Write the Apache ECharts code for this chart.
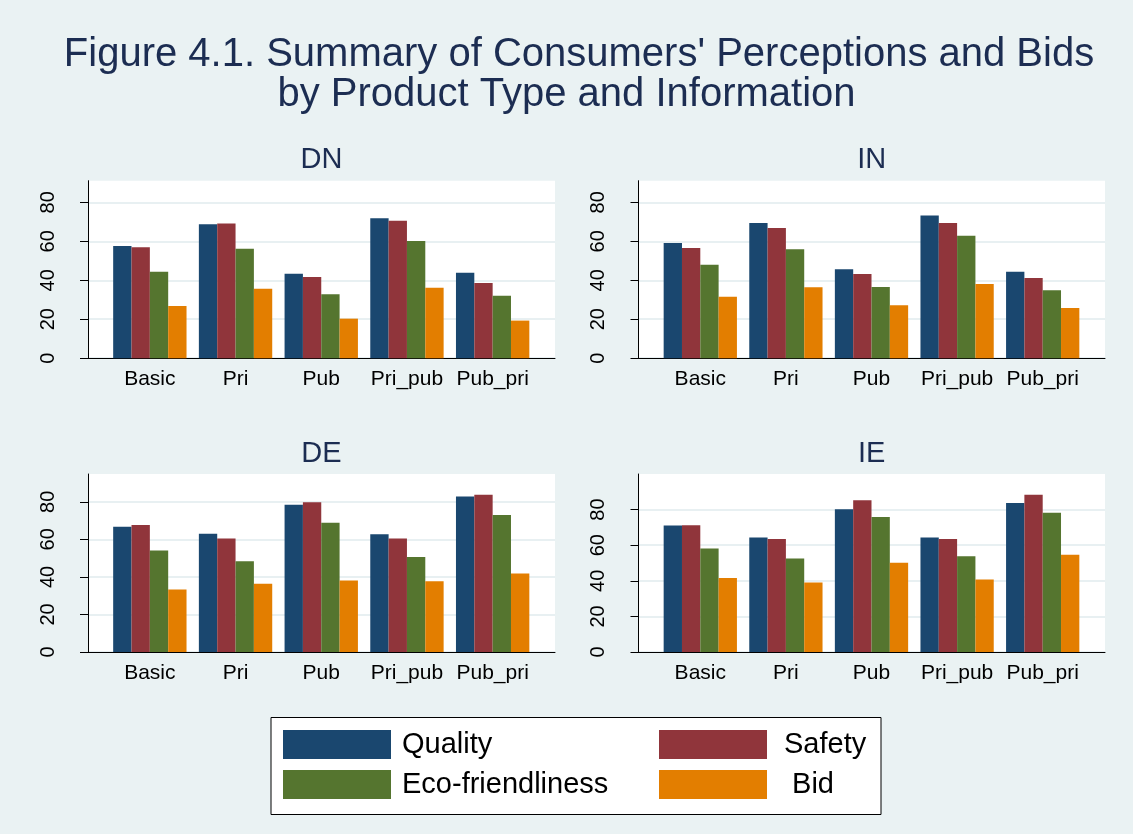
<!DOCTYPE html>
<html>
<head>
<meta charset="utf-8">
<title>Figure 4.1</title>
<script src="https://cdn.jsdelivr.net/npm/echarts@6/dist/echarts.min.js"></script>
<style>
  html, body { margin: 0; padding: 0; background: #eaf2f3; }
  #chart { width: 1133px; height: 834px; }
</style>
</head>
<body>
<div id="chart"></div>
<script>
const categories = ['Basic', 'Pri', 'Pub', 'Pri_pub', 'Pub_pri']
const seriesNames = ['Quality', 'Safety', 'Eco-friendliness', 'Bid']
const panelTitles = ['DN', 'IN', 'DE', 'IE']
const titleLines = ["Figure 4.1. Summary of Consumers' Perceptions and Bids", 'by Product Type and Information']
const yTicks = [0, 20, 40, 60, 80]
const panelMax = [91.1, 91.1, 94.8, 100]

const dnQuality = [57.6, 68.7, 43.4, 71.8, 43.8]
const dnSafety = [56.9, 69.1, 41.7, 70.6, 38.6]
const dnEco = [44.4, 56.2, 32.8, 60.2, 32.1]
const dnBid = [26.8, 35.7, 20.3, 36.1, 19.3]

const inQuality = [59.1, 69.4, 45.6, 73.2, 44.4]
const inSafety = [56.6, 66.8, 43.2, 69.4, 41.2]
const inEco = [47.9, 55.9, 36.6, 62.9, 34.9]
const inBid = [31.6, 36.4, 27.2, 38.1, 25.8]

const deQuality = [66.7, 63.0, 78.4, 62.7, 82.8]
const deSafety = [67.6, 60.4, 79.8, 60.4, 83.7]
const deEco = [54.0, 48.3, 68.8, 50.6, 72.9]
const deBid = [33.3, 36.3, 38.1, 37.7, 41.8]

const ieQuality = [71.0, 64.3, 80.2, 64.3, 83.7]
const ieSafety = [71.2, 63.5, 85.2, 63.5, 88.4]
const ieEco = [58.1, 52.5, 75.9, 53.8, 78.3]
const ieBid = [41.6, 39.0, 50.2, 40.8, 54.7]

const panelValues = [
  [dnQuality, dnSafety, dnEco, dnBid],
  [inQuality, inSafety, inEco, inBid],
  [deQuality, deSafety, deEco, deBid],
  [ieQuality, ieSafety, ieEco, ieBid]
]

const colors = ['#1a476f', '#90353b', '#55752f', '#e37e00']
const fontFamily = '"Liberation Sans", Arial, sans-serif'
const titleColor = '#1c2d52'

// plot boxes of the four panels (left, top, width, height)
const panelBoxes = [
  [88, 180.7, 467, 177.5],
  [638.5, 180.7, 466.5, 177.5],
  [88, 474, 467, 178],
  [638.5, 474, 466.5, 178]
]
// the bar groups sit inside the white plot box with a margin on both sides
const barInset = 19

const chart = echarts.init(document.getElementById('chart'))

const grid = []
const xAxis = []
const yAxis = []
const series = []

// the two title lines are centred a little differently in the original
const titleCenters = [579, 566.5]
const titles = titleLines.map((text, i) => ({
  text,
  left: titleCenters[i],
  top: 35 + i * 40,
  padding: 0,
  textAlign: 'center',
  textStyle: {
    color: titleColor,
    fontFamily,
    fontWeight: 'normal',
    fontSize: 40,
    lineHeight: 40
  }
}))

panelBoxes.forEach((box, p) => {
  const [left, top, width, height] = box
  const max = panelMax[p]

  // white plot area, y axis and base line
  grid.push({ left, top, width, height, show: true, backgroundColor: '#ffffff', borderWidth: 0, containLabel: false })
  // narrower grid that carries the bars and category labels
  grid.push({ left: left + barInset, top, width: width - barInset * 2 - 0.5, height, containLabel: false })

  xAxis.push({
    type: 'category',
    gridIndex: p * 2,
    data: [''],
    axisLine: { lineStyle: { color: '#000', width: 1 } },
    axisTick: { show: false },
    axisLabel: { show: false }
  })
  xAxis.push({
    type: 'category',
    gridIndex: p * 2 + 1,
    data: categories,
    axisLine: { show: false },
    axisTick: { show: false },
    axisLabel: { interval: 0, color: '#000', fontFamily, fontSize: 21, margin: 11 }
  })

  yAxis.push({
    type: 'value',
    gridIndex: p * 2,
    min: 0,
    max,
    interval: 20,
    axisLine: { show: true, lineStyle: { color: '#000', width: 1 } },
    axisTick: { show: true, length: 8, customValues: yTicks, lineStyle: { color: '#000' } },
    axisLabel: { rotate: 90, margin: 30, color: '#000', fontFamily, fontSize: 20, customValues: yTicks },
    splitLine: { show: true, lineStyle: { color: '#e8f0f2', width: 2 } }
  })
  yAxis.push({
    type: 'value',
    gridIndex: p * 2 + 1,
    min: 0,
    max,
    show: false,
    splitLine: { show: false }
  })

  titles.push({
    text: panelTitles[p],
    left: left + width / 2,
    top: top - 35,
    padding: 0,
    textAlign: 'center',
    textStyle: { color: titleColor, fontFamily, fontWeight: 'normal', fontSize: 29, lineHeight: 29 }
  })

  seriesNames.forEach((name, s) => {
    series.push({
      name,
      type: 'bar',
      xAxisIndex: p * 2 + 1,
      yAxisIndex: p * 2 + 1,
      barGap: '0%',
      barCategoryGap: '14.4%',
      itemStyle: { color: colors[s] },
      data: panelValues[p][s]
    })
  })
})

const legendBase = {
  orient: 'vertical',
  top: 730,
  padding: 0,
  itemWidth: 108,
  itemHeight: 29,
  itemGap: 11,
  icon: 'rect',
  selectedMode: false
}

chart.setOption({
  backgroundColor: '#eaf2f3',
  animation: false,
  title: titles,
  grid,
  xAxis,
  yAxis,
  series,
  legend: [
    {
      ...legendBase,
      left: 283,
      data: ['Quality', 'Eco-friendliness'],
      textStyle: { color: '#000', fontFamily, fontSize: 29, lineHeight: 29, padding: [0, 0, 0, 6] }
    },
    {
      ...legendBase,
      left: 659,
      data: ['Safety', 'Bid'],
      formatter: (name) => (name === 'Bid' ? ' ' + name : name),
      textStyle: { color: '#000', fontFamily, fontSize: 29, lineHeight: 29, padding: [0, 0, 0, 12] }
    }
  ],
  graphic: [{
    type: 'rect',
    z: 0,
    shape: { x: 271, y: 717.5, width: 610, height: 97 },
    style: { fill: '#ffffff', stroke: '#000', lineWidth: 1 }
  }]
})

window.addEventListener('resize', () => chart.resize())
</script>
</body>
</html>
